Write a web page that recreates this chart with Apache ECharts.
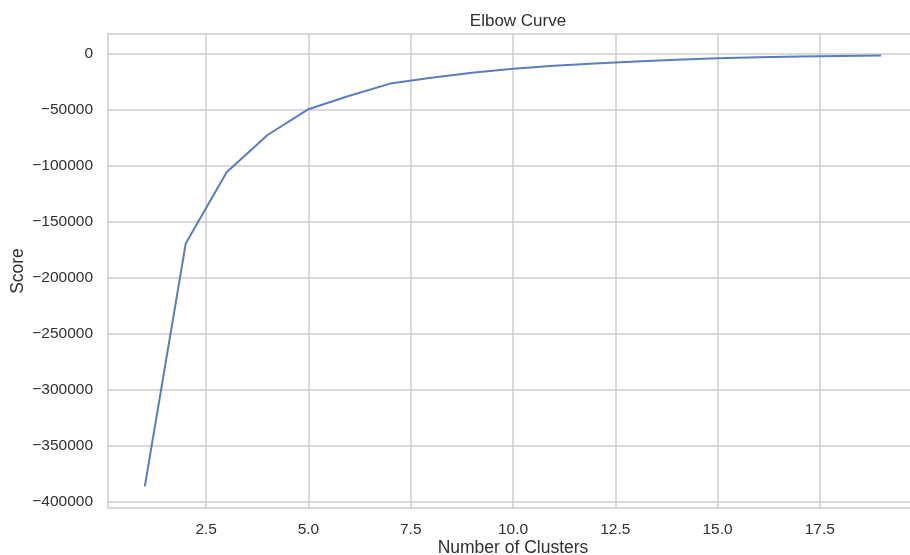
<!DOCTYPE html>
<html>
<head>
<meta charset="utf-8">
<script src="https://cdn.jsdelivr.net/npm/echarts@6/dist/echarts.min.js"></script>
<style>
  html, body { margin: 0; padding: 0; background: #fff; overflow: hidden; }
  /* plot runs past the right edge of the picture, as in the reference */
  #chart { width: 920px; height: 555px; }
</style>
</head>
<body>
<div id="chart"></div>
<script>
  // number of clusters vs. k-means score
  const clusters = [1, 2, 3, 4, 5, 6, 7, 8, 9, 10, 11, 12, 13, 14, 15, 16, 17, 18, 19];
  const scores = [-386000, -169500, -106000, -72800, -49800, -37800, -27000, -21800, -17400, -13800,
                  -11000, -9000, -7300, -5700, -4500, -3500, -2800, -2300, -2000];
  const xTicks = [2.5, 5.0, 7.5, 10.0, 12.5, 15.0, 17.5];
  const yTicks = [-400000, -350000, -300000, -250000, -200000, -150000, -100000, -50000, 0];

  const gridColor = '#cccccc';
  const textColor = '#303030';
  const font = 'Liberation Sans, Arial, sans-serif';

  const chart = echarts.init(document.getElementById('chart'));
  const option = {
    animation: false,
    title: {
      text: 'Elbow Curve',
      left: 513,
      textAlign: 'center',
      top: 8,
      textStyle: { fontFamily: font, fontSize: 17, fontWeight: 'normal', color: textColor }
    },
    grid: {
      left: 108, top: 34, width: 810, bottom: 47,
      outerBoundsMode: 'none',
      show: true, borderColor: gridColor, borderWidth: 1.5, backgroundColor: '#fff'
    },
    xAxis: {
      type: 'value',
      min: 0.1, max: 19.9,
      name: 'Number of Clusters',
      nameLocation: 'middle',
      nameGap: 31,
      nameMoveOverlap: false,
      nameTextStyle: { fontFamily: font, fontSize: 17.5, color: textColor },
      axisLine: { show: false },
      axisTick: { show: false, customValues: xTicks },
      axisLabel: {
        customValues: xTicks,
        margin: 14,
        fontFamily: font, fontSize: 15.5, color: textColor,
        formatter: v => v.toFixed(1)
      },
      splitLine: { show: true, lineStyle: { color: gridColor, width: 1.5 } }
    },
    yAxis: {
      type: 'value',
      min: -405200, max: 17200,
      name: 'Score',
      nameLocation: 'middle',
      nameGap: 81,
      nameRotate: 90,
      nameMoveOverlap: false,
      nameTextStyle: { fontFamily: font, fontSize: 17.5, color: textColor },
      axisLine: { show: false },
      axisTick: { show: false, customValues: yTicks },
      axisLabel: {
        customValues: yTicks,
        margin: 15,
        fontFamily: font, fontSize: 15.5, color: textColor,
        formatter: v => (v < 0 ? '\u2212' + Math.abs(v) : String(v))
      },
      splitLine: { show: true, lineStyle: { color: gridColor, width: 1.5 } }
    },
    series: [{
      type: 'line',
      data: clusters.map((c, i) => [c, scores[i]]),
      showSymbol: false,
      lineStyle: { color: '#5a7dbf', width: 2 },
      itemStyle: { color: '#5a7dbf' }
    }]
  };
  chart.setOption(option);
</script>
</body>
</html>
